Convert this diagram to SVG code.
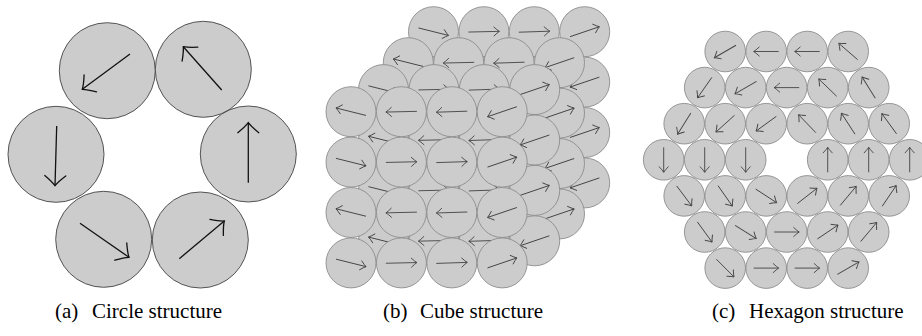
<svg xmlns="http://www.w3.org/2000/svg" width="922" height="336" viewBox="0 0 922 336">
<defs>
<style>
.ca{fill:#cccccc;stroke:#444;stroke-width:0.9}
.cb{fill:#cccccc;stroke:#8c8c8c;stroke-width:0.9}
.aa{stroke:#111;stroke-width:1.3;fill:none;marker-end:url(#mA)}
.ab{stroke:#444;stroke-width:0.9;fill:none;marker-end:url(#mB)}
.cap{font-family:"Liberation Serif","Times New Roman",serif;font-size:21px;fill:#000}
</style>
<marker id="mA" markerUnits="userSpaceOnUse" viewBox="-12 -12 14 24" refX="0" refY="0" markerWidth="14" markerHeight="24" orient="auto" overflow="visible"><path d="M-10,-10.5 Q-4,-3 0,0 Q-4,3 -10,10.5" fill="none" stroke="#111" stroke-width="1.3" stroke-linecap="round"/></marker>
<marker id="mB" markerUnits="userSpaceOnUse" viewBox="-7 -6 8 12" refX="0" refY="0" markerWidth="8" markerHeight="12" orient="auto" overflow="visible"><path d="M-5.5,-4.5 Q-2,-1.2 0,0 Q-2,1.2 -5.5,4.5" fill="none" stroke="#444" stroke-width="0.9" stroke-linecap="round"/></marker>
</defs>
<rect width="922" height="336" fill="#fff"/>

<g id="circle-structure">
<g id="a1"><circle class="ca" cx="107.3" cy="70.7" r="48"/><line class="aa" x1="130" y1="54" x2="82.3" y2="89.3"/></g>
<g id="a2"><circle class="ca" cx="203.3" cy="69.3" r="48"/><line class="aa" x1="221.7" y1="90" x2="183.3" y2="46.7"/></g>
<g id="a3"><circle class="ca" cx="248.3" cy="154" r="48"/><line class="aa" x1="248.3" y1="182.7" x2="248.3" y2="122.7"/></g>
<g id="a4"><circle class="ca" cx="56" cy="154.3" r="48"/><line class="aa" x1="56.7" y1="126" x2="55" y2="185.7"/></g>
<g id="a5"><circle class="ca" cx="103.7" cy="239.3" r="48"/><line class="aa" x1="80" y1="223.3" x2="129" y2="257.3"/></g>
<g id="a6"><circle class="ca" cx="200.3" cy="240" r="48"/><line class="aa" x1="179.3" y1="258.7" x2="224.3" y2="221"/></g>
</g>

<g id="cube-structure">
<!-- layer 3 (back) -->
<g id="b3-00" transform="translate(433.5,31.7)"><circle class="cb" r="25"/><line class="ab" x1="-15.5" y1="0" x2="15.5" y2="0" transform="rotate(14)"/></g>
<g id="b3-01" transform="translate(483.9,31.7)"><circle class="cb" r="25"/><line class="ab" x1="-15.5" y1="0" x2="15.5" y2="0" transform="rotate(-1.3)"/></g>
<g id="b3-02" transform="translate(534.3,31.7)"><circle class="cb" r="25"/><line class="ab" x1="-15.5" y1="0" x2="15.5" y2="0" transform="rotate(-1.9)"/></g>
<g id="b3-03" transform="translate(584.7,31.7)"><circle class="cb" r="25"/><line class="ab" x1="-15.5" y1="0" x2="15.5" y2="0" transform="rotate(-18.8)"/></g>
<g id="b3-10" transform="translate(433.5,82.1)"><circle class="cb" r="25"/><line class="ab" x1="-15.5" y1="0" x2="15.5" y2="0" transform="rotate(194)"/></g>
<g id="b3-11" transform="translate(483.9,82.1)"><circle class="cb" r="25"/><line class="ab" x1="-15.5" y1="0" x2="15.5" y2="0" transform="rotate(178.7)"/></g>
<g id="b3-12" transform="translate(534.3,82.1)"><circle class="cb" r="25"/><line class="ab" x1="-15.5" y1="0" x2="15.5" y2="0" transform="rotate(178.1)"/></g>
<g id="b3-13" transform="translate(584.7,82.1)"><circle class="cb" r="25"/><line class="ab" x1="-15.5" y1="0" x2="15.5" y2="0" transform="rotate(161.2)"/></g>
<g id="b3-20" transform="translate(433.5,132.5)"><circle class="cb" r="25"/><line class="ab" x1="-15.5" y1="0" x2="15.5" y2="0" transform="rotate(14)"/></g>
<g id="b3-21" transform="translate(483.9,132.5)"><circle class="cb" r="25"/><line class="ab" x1="-15.5" y1="0" x2="15.5" y2="0" transform="rotate(-1.3)"/></g>
<g id="b3-22" transform="translate(534.3,132.5)"><circle class="cb" r="25"/><line class="ab" x1="-15.5" y1="0" x2="15.5" y2="0" transform="rotate(-1.9)"/></g>
<g id="b3-23" transform="translate(584.7,132.5)"><circle class="cb" r="25"/><line class="ab" x1="-15.5" y1="0" x2="15.5" y2="0" transform="rotate(-18.8)"/></g>
<g id="b3-30" transform="translate(433.5,182.9)"><circle class="cb" r="25"/><line class="ab" x1="-15.5" y1="0" x2="15.5" y2="0" transform="rotate(194)"/></g>
<g id="b3-31" transform="translate(483.9,182.9)"><circle class="cb" r="25"/><line class="ab" x1="-15.5" y1="0" x2="15.5" y2="0" transform="rotate(178.7)"/></g>
<g id="b3-32" transform="translate(534.3,182.9)"><circle class="cb" r="25"/><line class="ab" x1="-15.5" y1="0" x2="15.5" y2="0" transform="rotate(178.1)"/></g>
<g id="b3-33" transform="translate(584.7,182.9)"><circle class="cb" r="25"/><line class="ab" x1="-15.5" y1="0" x2="15.5" y2="0" transform="rotate(161.2)"/></g>
<!-- layer 2 -->
<g id="b2-00" transform="translate(408.3,62.7)"><circle class="cb" r="25"/><line class="ab" x1="-15.5" y1="0" x2="15.5" y2="0" transform="rotate(194)"/></g>
<g id="b2-01" transform="translate(458.7,62.7)"><circle class="cb" r="25"/><line class="ab" x1="-15.5" y1="0" x2="15.5" y2="0" transform="rotate(178.7)"/></g>
<g id="b2-02" transform="translate(509.1,62.7)"><circle class="cb" r="25"/><line class="ab" x1="-15.5" y1="0" x2="15.5" y2="0" transform="rotate(178.1)"/></g>
<g id="b2-03" transform="translate(559.5,62.7)"><circle class="cb" r="25"/><line class="ab" x1="-15.5" y1="0" x2="15.5" y2="0" transform="rotate(161.2)"/></g>
<g id="b2-10" transform="translate(408.3,113.1)"><circle class="cb" r="25"/><line class="ab" x1="-15.5" y1="0" x2="15.5" y2="0" transform="rotate(14)"/></g>
<g id="b2-11" transform="translate(458.7,113.1)"><circle class="cb" r="25"/><line class="ab" x1="-15.5" y1="0" x2="15.5" y2="0" transform="rotate(-1.3)"/></g>
<g id="b2-12" transform="translate(509.1,113.1)"><circle class="cb" r="25"/><line class="ab" x1="-15.5" y1="0" x2="15.5" y2="0" transform="rotate(-1.9)"/></g>
<g id="b2-13" transform="translate(559.5,113.1)"><circle class="cb" r="25"/><line class="ab" x1="-15.5" y1="0" x2="15.5" y2="0" transform="rotate(-18.8)"/></g>
<g id="b2-20" transform="translate(408.3,163.5)"><circle class="cb" r="25"/><line class="ab" x1="-15.5" y1="0" x2="15.5" y2="0" transform="rotate(194)"/></g>
<g id="b2-21" transform="translate(458.7,163.5)"><circle class="cb" r="25"/><line class="ab" x1="-15.5" y1="0" x2="15.5" y2="0" transform="rotate(178.7)"/></g>
<g id="b2-22" transform="translate(509.1,163.5)"><circle class="cb" r="25"/><line class="ab" x1="-15.5" y1="0" x2="15.5" y2="0" transform="rotate(178.1)"/></g>
<g id="b2-23" transform="translate(559.5,163.5)"><circle class="cb" r="25"/><line class="ab" x1="-15.5" y1="0" x2="15.5" y2="0" transform="rotate(161.2)"/></g>
<g id="b2-30" transform="translate(408.3,213.9)"><circle class="cb" r="25"/><line class="ab" x1="-15.5" y1="0" x2="15.5" y2="0" transform="rotate(14)"/></g>
<g id="b2-31" transform="translate(458.7,213.9)"><circle class="cb" r="25"/><line class="ab" x1="-15.5" y1="0" x2="15.5" y2="0" transform="rotate(-1.3)"/></g>
<g id="b2-32" transform="translate(509.1,213.9)"><circle class="cb" r="25"/><line class="ab" x1="-15.5" y1="0" x2="15.5" y2="0" transform="rotate(-1.9)"/></g>
<g id="b2-33" transform="translate(559.5,213.9)"><circle class="cb" r="25"/><line class="ab" x1="-15.5" y1="0" x2="15.5" y2="0" transform="rotate(-18.8)"/></g>
<!-- layer 1 -->
<g id="b1-00" transform="translate(383.5,89.6)"><circle class="cb" r="25"/><line class="ab" x1="-15.5" y1="0" x2="15.5" y2="0" transform="rotate(14)"/></g>
<g id="b1-01" transform="translate(433.9,89.6)"><circle class="cb" r="25"/><line class="ab" x1="-15.5" y1="0" x2="15.5" y2="0" transform="rotate(-1.3)"/></g>
<g id="b1-02" transform="translate(484.3,89.6)"><circle class="cb" r="25"/><line class="ab" x1="-15.5" y1="0" x2="15.5" y2="0" transform="rotate(-1.9)"/></g>
<g id="b1-03" transform="translate(534.7,89.6)"><circle class="cb" r="25"/><line class="ab" x1="-15.5" y1="0" x2="15.5" y2="0" transform="rotate(-18.8)"/></g>
<g id="b1-10" transform="translate(383.5,140)"><circle class="cb" r="25"/><line class="ab" x1="-15.5" y1="0" x2="15.5" y2="0" transform="rotate(194)"/></g>
<g id="b1-11" transform="translate(433.9,140)"><circle class="cb" r="25"/><line class="ab" x1="-15.5" y1="0" x2="15.5" y2="0" transform="rotate(178.7)"/></g>
<g id="b1-12" transform="translate(484.3,140)"><circle class="cb" r="25"/><line class="ab" x1="-15.5" y1="0" x2="15.5" y2="0" transform="rotate(178.1)"/></g>
<g id="b1-13" transform="translate(534.7,140)"><circle class="cb" r="25"/><line class="ab" x1="-15.5" y1="0" x2="15.5" y2="0" transform="rotate(161.2)"/></g>
<g id="b1-20" transform="translate(383.5,190.4)"><circle class="cb" r="25"/><line class="ab" x1="-15.5" y1="0" x2="15.5" y2="0" transform="rotate(14)"/></g>
<g id="b1-21" transform="translate(433.9,190.4)"><circle class="cb" r="25"/><line class="ab" x1="-15.5" y1="0" x2="15.5" y2="0" transform="rotate(-1.3)"/></g>
<g id="b1-22" transform="translate(484.3,190.4)"><circle class="cb" r="25"/><line class="ab" x1="-15.5" y1="0" x2="15.5" y2="0" transform="rotate(-1.9)"/></g>
<g id="b1-23" transform="translate(534.7,190.4)"><circle class="cb" r="25"/><line class="ab" x1="-15.5" y1="0" x2="15.5" y2="0" transform="rotate(-18.8)"/></g>
<g id="b1-30" transform="translate(383.5,240.8)"><circle class="cb" r="25"/><line class="ab" x1="-15.5" y1="0" x2="15.5" y2="0" transform="rotate(194)"/></g>
<g id="b1-31" transform="translate(433.9,240.8)"><circle class="cb" r="25"/><line class="ab" x1="-15.5" y1="0" x2="15.5" y2="0" transform="rotate(178.7)"/></g>
<g id="b1-32" transform="translate(484.3,240.8)"><circle class="cb" r="25"/><line class="ab" x1="-15.5" y1="0" x2="15.5" y2="0" transform="rotate(178.1)"/></g>
<g id="b1-33" transform="translate(534.7,240.8)"><circle class="cb" r="25"/><line class="ab" x1="-15.5" y1="0" x2="15.5" y2="0" transform="rotate(161.2)"/></g>
<!-- layer 0 (front) -->
<g id="b0-00" transform="translate(351,111.7)"><circle class="cb" r="25"/><line class="ab" x1="-15.5" y1="0" x2="15.5" y2="0" transform="rotate(194)"/></g>
<g id="b0-01" transform="translate(401.4,111.7)"><circle class="cb" r="25"/><line class="ab" x1="-15.5" y1="0" x2="15.5" y2="0" transform="rotate(178.7)"/></g>
<g id="b0-02" transform="translate(451.8,111.7)"><circle class="cb" r="25"/><line class="ab" x1="-15.5" y1="0" x2="15.5" y2="0" transform="rotate(178.1)"/></g>
<g id="b0-03" transform="translate(502.2,111.7)"><circle class="cb" r="25"/><line class="ab" x1="-15.5" y1="0" x2="15.5" y2="0" transform="rotate(161.2)"/></g>
<g id="b0-10" transform="translate(351,162.1)"><circle class="cb" r="25"/><line class="ab" x1="-15.5" y1="0" x2="15.5" y2="0" transform="rotate(14)"/></g>
<g id="b0-11" transform="translate(401.4,162.1)"><circle class="cb" r="25"/><line class="ab" x1="-15.5" y1="0" x2="15.5" y2="0" transform="rotate(-1.3)"/></g>
<g id="b0-12" transform="translate(451.8,162.1)"><circle class="cb" r="25"/><line class="ab" x1="-15.5" y1="0" x2="15.5" y2="0" transform="rotate(-1.9)"/></g>
<g id="b0-13" transform="translate(502.2,162.1)"><circle class="cb" r="25"/><line class="ab" x1="-15.5" y1="0" x2="15.5" y2="0" transform="rotate(-18.8)"/></g>
<g id="b0-20" transform="translate(351,212.5)"><circle class="cb" r="25"/><line class="ab" x1="-15.5" y1="0" x2="15.5" y2="0" transform="rotate(194)"/></g>
<g id="b0-21" transform="translate(401.4,212.5)"><circle class="cb" r="25"/><line class="ab" x1="-15.5" y1="0" x2="15.5" y2="0" transform="rotate(178.7)"/></g>
<g id="b0-22" transform="translate(451.8,212.5)"><circle class="cb" r="25"/><line class="ab" x1="-15.5" y1="0" x2="15.5" y2="0" transform="rotate(178.1)"/></g>
<g id="b0-23" transform="translate(502.2,212.5)"><circle class="cb" r="25"/><line class="ab" x1="-15.5" y1="0" x2="15.5" y2="0" transform="rotate(161.2)"/></g>
<g id="b0-30" transform="translate(351,262.9)"><circle class="cb" r="25"/><line class="ab" x1="-15.5" y1="0" x2="15.5" y2="0" transform="rotate(14)"/></g>
<g id="b0-31" transform="translate(401.4,262.9)"><circle class="cb" r="25"/><line class="ab" x1="-15.5" y1="0" x2="15.5" y2="0" transform="rotate(-1.3)"/></g>
<g id="b0-32" transform="translate(451.8,262.9)"><circle class="cb" r="25"/><line class="ab" x1="-15.5" y1="0" x2="15.5" y2="0" transform="rotate(-1.9)"/></g>
<g id="b0-33" transform="translate(502.2,262.9)"><circle class="cb" r="25"/><line class="ab" x1="-15.5" y1="0" x2="15.5" y2="0" transform="rotate(-18.8)"/></g>
</g>

<g id="hexagon-structure">
<g id="c0-0" transform="translate(725.2,51.5)"><circle class="cb" r="20.3"/><line class="ab" x1="-12.5" y1="0" x2="12.5" y2="0" transform="rotate(150)"/></g>
<g id="c0-1" transform="translate(766.2,51.5)"><circle class="cb" r="20.3"/><line class="ab" x1="-12.5" y1="0" x2="12.5" y2="0" transform="rotate(180)"/></g>
<g id="c0-2" transform="translate(807.2,51.5)"><circle class="cb" r="20.3"/><line class="ab" x1="-12.5" y1="0" x2="12.5" y2="0" transform="rotate(180)"/></g>
<g id="c0-3" transform="translate(848.2,51.5)"><circle class="cb" r="20.3"/><line class="ab" x1="-12.5" y1="0" x2="12.5" y2="0" transform="rotate(221)"/></g>
<g id="c1-0" transform="translate(704.7,87.6)"><circle class="cb" r="20.3"/><line class="ab" x1="-12.5" y1="0" x2="12.5" y2="0" transform="rotate(125)"/></g>
<g id="c1-1" transform="translate(745.7,87.6)"><circle class="cb" r="20.3"/><line class="ab" x1="-12.5" y1="0" x2="12.5" y2="0" transform="rotate(150)"/></g>
<g id="c1-2" transform="translate(786.7,87.6)"><circle class="cb" r="20.3"/><line class="ab" x1="-12.5" y1="0" x2="12.5" y2="0" transform="rotate(180)"/></g>
<g id="c1-3" transform="translate(827.7,87.6)"><circle class="cb" r="20.3"/><line class="ab" x1="-12.5" y1="0" x2="12.5" y2="0" transform="rotate(224)"/></g>
<g id="c1-4" transform="translate(868.7,87.6)"><circle class="cb" r="20.3"/><line class="ab" x1="-12.5" y1="0" x2="12.5" y2="0" transform="rotate(238)"/></g>
<g id="c2-0" transform="translate(684.2,123.7)"><circle class="cb" r="20.3"/><line class="ab" x1="-12.5" y1="0" x2="12.5" y2="0" transform="rotate(122)"/></g>
<g id="c2-1" transform="translate(725.2,123.7)"><circle class="cb" r="20.3"/><line class="ab" x1="-12.5" y1="0" x2="12.5" y2="0" transform="rotate(138)"/></g>
<g id="c2-2" transform="translate(766.2,123.7)"><circle class="cb" r="20.3"/><line class="ab" x1="-12.5" y1="0" x2="12.5" y2="0" transform="rotate(144)"/></g>
<g id="c2-3" transform="translate(807.2,123.7)"><circle class="cb" r="20.3"/><line class="ab" x1="-12.5" y1="0" x2="12.5" y2="0" transform="rotate(226)"/></g>
<g id="c2-4" transform="translate(848.2,123.7)"><circle class="cb" r="20.3"/><line class="ab" x1="-12.5" y1="0" x2="12.5" y2="0" transform="rotate(237)"/></g>
<g id="c2-5" transform="translate(889.2,123.7)"><circle class="cb" r="20.3"/><line class="ab" x1="-12.5" y1="0" x2="12.5" y2="0" transform="rotate(234)"/></g>
<g id="c3-0" transform="translate(663.7,159.8)"><circle class="cb" r="20.3"/><line class="ab" x1="-12.5" y1="0" x2="12.5" y2="0" transform="rotate(90)"/></g>
<g id="c3-1" transform="translate(704.7,159.8)"><circle class="cb" r="20.3"/><line class="ab" x1="-12.5" y1="0" x2="12.5" y2="0" transform="rotate(90)"/></g>
<g id="c3-2" transform="translate(745.7,159.8)"><circle class="cb" r="20.3"/><line class="ab" x1="-12.5" y1="0" x2="12.5" y2="0" transform="rotate(90)"/></g>
<g id="c3-4" transform="translate(827.7,159.8)"><circle class="cb" r="20.3"/><line class="ab" x1="-12.5" y1="0" x2="12.5" y2="0" transform="rotate(270)"/></g>
<g id="c3-5" transform="translate(868.7,159.8)"><circle class="cb" r="20.3"/><line class="ab" x1="-12.5" y1="0" x2="12.5" y2="0" transform="rotate(270)"/></g>
<g id="c3-6" transform="translate(909.7,159.8)"><circle class="cb" r="20.3"/><line class="ab" x1="-12.5" y1="0" x2="12.5" y2="0" transform="rotate(270)"/></g>
<g id="c4-0" transform="translate(684.2,195.9)"><circle class="cb" r="20.3"/><line class="ab" x1="-12.5" y1="0" x2="12.5" y2="0" transform="rotate(53)"/></g>
<g id="c4-1" transform="translate(725.2,195.9)"><circle class="cb" r="20.3"/><line class="ab" x1="-12.5" y1="0" x2="12.5" y2="0" transform="rotate(55)"/></g>
<g id="c4-2" transform="translate(766.2,195.9)"><circle class="cb" r="20.3"/><line class="ab" x1="-12.5" y1="0" x2="12.5" y2="0" transform="rotate(33)"/></g>
<g id="c4-3" transform="translate(807.2,195.9)"><circle class="cb" r="20.3"/><line class="ab" x1="-12.5" y1="0" x2="12.5" y2="0" transform="rotate(322)"/></g>
<g id="c4-4" transform="translate(848.2,195.9)"><circle class="cb" r="20.3"/><line class="ab" x1="-12.5" y1="0" x2="12.5" y2="0" transform="rotate(310)"/></g>
<g id="c4-5" transform="translate(889.2,195.9)"><circle class="cb" r="20.3"/><line class="ab" x1="-12.5" y1="0" x2="12.5" y2="0" transform="rotate(304)"/></g>
<g id="c5-0" transform="translate(704.7,232)"><circle class="cb" r="20.3"/><line class="ab" x1="-12.5" y1="0" x2="12.5" y2="0" transform="rotate(54)"/></g>
<g id="c5-1" transform="translate(745.7,232)"><circle class="cb" r="20.3"/><line class="ab" x1="-12.5" y1="0" x2="12.5" y2="0" transform="rotate(32)"/></g>
<g id="c5-2" transform="translate(786.7,232)"><circle class="cb" r="20.3"/><line class="ab" x1="-12.5" y1="0" x2="12.5" y2="0" transform="rotate(0)"/></g>
<g id="c5-3" transform="translate(827.7,232)"><circle class="cb" r="20.3"/><line class="ab" x1="-12.5" y1="0" x2="12.5" y2="0" transform="rotate(326)"/></g>
<g id="c5-4" transform="translate(868.7,232)"><circle class="cb" r="20.3"/><line class="ab" x1="-12.5" y1="0" x2="12.5" y2="0" transform="rotate(310)"/></g>
<g id="c6-0" transform="translate(725.2,268.1)"><circle class="cb" r="20.3"/><line class="ab" x1="-12.5" y1="0" x2="12.5" y2="0" transform="rotate(45)"/></g>
<g id="c6-1" transform="translate(766.2,268.1)"><circle class="cb" r="20.3"/><line class="ab" x1="-12.5" y1="0" x2="12.5" y2="0" transform="rotate(0)"/></g>
<g id="c6-2" transform="translate(807.2,268.1)"><circle class="cb" r="20.3"/><line class="ab" x1="-12.5" y1="0" x2="12.5" y2="0" transform="rotate(0)"/></g>
<g id="c6-3" transform="translate(848.2,268.1)"><circle class="cb" r="20.3"/><line class="ab" x1="-12.5" y1="0" x2="12.5" y2="0" transform="rotate(330)"/></g>
</g>

<g id="captions">
<text class="cap" y="318"><tspan x="55">(a)</tspan><tspan x="92">Circle structure</tspan></text>
<text class="cap" y="318"><tspan x="383">(b)</tspan><tspan x="420">Cube structure</tspan></text>
<text class="cap" y="318"><tspan x="712">(c)</tspan><tspan x="749">Hexagon structure</tspan></text>
</g>
</svg>
